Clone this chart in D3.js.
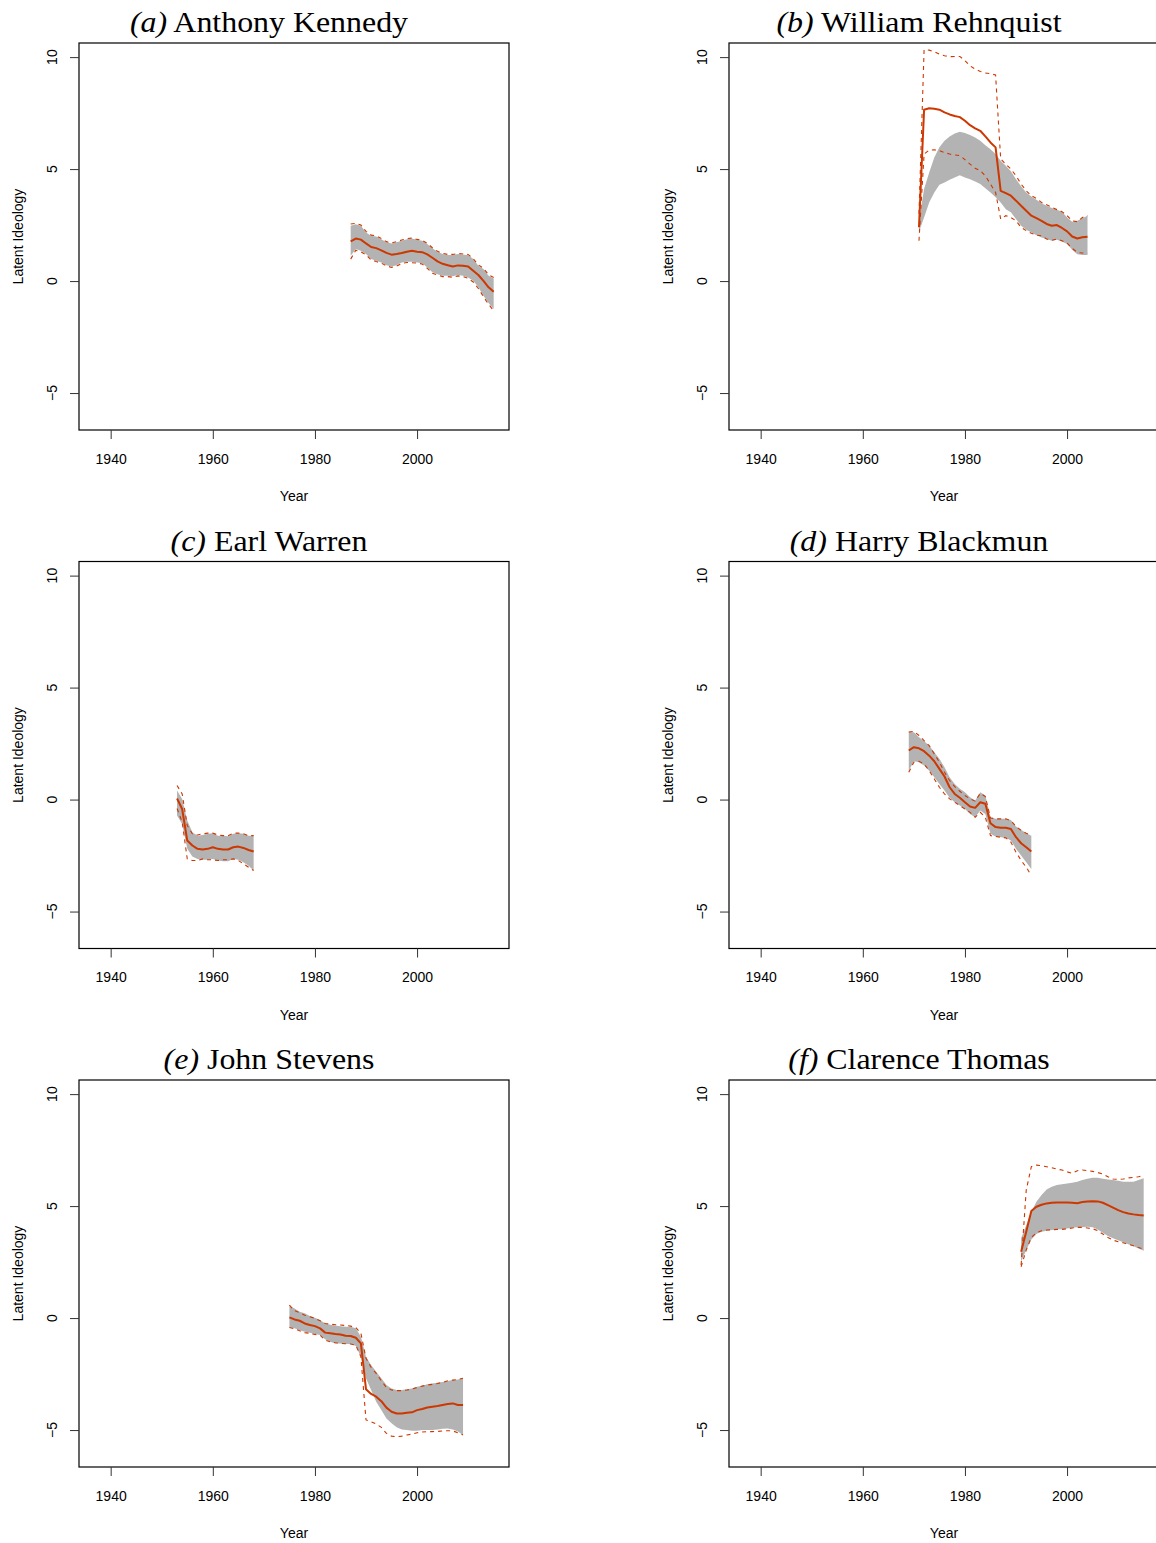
<!DOCTYPE html>
<html>
<head>
<meta charset="utf-8">
<script src="https://cdnjs.cloudflare.com/ajax/libs/d3/7.8.5/d3.min.js"></script>
<style>
  body { margin: 0; background: #fff; }
  .axis text { font-family: "Liberation Sans", Arial, Helvetica, sans-serif; font-size: 14px; fill: #000; }
  .axis line { stroke: #333; }
</style>
</head>
<body>
<div id="chart"></div>
<script>
// ---- data ----
var panelLetters = ["a", "b", "c", "d", "e", "f"];
var panelNames = ["Anthony Kennedy", "William Rehnquist", "Earl Warren", "Harry Blackmun", "John Stevens", "Clarence Thomas"];
var startYears = [1987, 1971, 1953, 1969, 1975, 1991];
var yearTicks = [1940, 1960, 1980, 2000];
var ideologyTicks = [-5, 0, 5, 10];

var kennedyMean = [1.77,1.90,1.85,1.68,1.52,1.47,1.37,1.26,1.18,1.21,1.25,1.31,1.35,1.31,1.29,1.19,1.04,0.88,0.77,0.71,0.65,0.70,0.68,0.65,0.46,0.27,0.01,-0.28,-0.48];
var kennedyBandHi = [2.47,2.54,2.47,2.17,2.02,1.99,1.87,1.73,1.68,1.73,1.80,1.87,1.90,1.84,1.80,1.65,1.46,1.31,1.21,1.16,1.16,1.21,1.18,1.16,0.98,0.68,0.54,0.24,0.12];
var kennedyBandLo = [1.13,1.43,1.35,1.21,0.98,0.91,0.83,0.71,0.65,0.71,0.83,0.86,0.86,0.83,0.80,0.61,0.39,0.31,0.24,0.24,0.21,0.27,0.24,0.16,0.01,-0.28,-0.65,-0.98,-1.25];
var kennedyDashHi = [2.55,2.58,2.50,2.22,2.05,2.02,1.90,1.76,1.70,1.76,1.83,1.90,1.92,1.86,1.82,1.68,1.49,1.33,1.24,1.19,1.19,1.23,1.21,1.19,1.00,0.72,0.57,0.28,0.16];
var kennedyDashLo = [0.98,1.38,1.31,1.17,0.95,0.87,0.80,0.68,0.61,0.67,0.79,0.83,0.82,0.80,0.76,0.57,0.35,0.27,0.20,0.20,0.17,0.23,0.20,0.12,-0.04,-0.33,-0.70,-1.04,-1.32];

var rehnquistMean = [2.40,7.65,7.72,7.69,7.65,7.53,7.44,7.37,7.32,7.16,6.96,6.82,6.71,6.46,6.19,5.97,4.03,3.93,3.81,3.59,3.36,3.14,2.92,2.81,2.69,2.55,2.47,2.50,2.37,2.22,1.99,1.90,1.96,1.98];
var rehnquistBandHi = [2.70,4.11,4.85,5.52,5.97,6.27,6.46,6.59,6.67,6.61,6.52,6.41,6.27,6.07,5.89,5.67,5.37,5.15,4.90,4.55,4.23,3.96,3.78,3.63,3.48,3.36,3.26,3.19,3.10,2.84,2.65,2.69,2.80,2.92];
var rehnquistBandLo = [2.20,2.84,3.51,3.96,4.30,4.40,4.52,4.63,4.73,4.63,4.55,4.45,4.33,4.14,3.96,3.74,3.51,3.21,3.07,2.77,2.47,2.29,2.17,2.05,1.95,1.88,1.80,1.85,1.77,1.65,1.40,1.20,1.16,1.16];
var rehnquistDashHi = [3.00,10.33,10.31,10.24,10.13,10.06,10.02,10.03,10.03,9.84,9.61,9.46,9.36,9.29,9.26,9.20,5.45,5.22,5.00,4.70,4.33,4.03,3.81,3.69,3.51,3.41,3.29,3.19,3.10,2.92,2.69,2.65,2.84,2.92];
var rehnquistDashLo = [1.80,5.67,5.85,5.86,5.82,5.74,5.67,5.63,5.60,5.42,5.22,5.04,4.93,4.70,4.33,3.96,2.77,2.92,2.84,2.69,2.40,2.25,2.14,2.05,2.02,1.88,1.82,1.88,1.80,1.70,1.46,1.28,1.25,1.25];

var warrenMean = [0.05,-0.42,-1.83,-2.05,-2.20,-2.23,-2.20,-2.13,-2.20,-2.23,-2.23,-2.13,-2.10,-2.16,-2.25,-2.32];
var warrenBandHi = [0.40,0.03,-0.94,-1.46,-1.61,-1.58,-1.53,-1.50,-1.61,-1.61,-1.64,-1.53,-1.50,-1.53,-1.61,-1.61];
var warrenBandLo = [-0.71,-1.09,-2.20,-2.54,-2.65,-2.69,-2.69,-2.65,-2.72,-2.75,-2.75,-2.65,-2.69,-2.80,-2.95,-3.17];
var warrenDashHi = [0.63,0.25,-1.16,-1.53,-1.58,-1.53,-1.50,-1.50,-1.58,-1.61,-1.61,-1.50,-1.50,-1.53,-1.61,-1.61];
var warrenDashLo = [-0.40,-1.00,-2.65,-2.72,-2.72,-2.65,-2.69,-2.69,-2.72,-2.69,-2.69,-2.65,-2.72,-2.87,-3.02,-3.17];

var blackmunMean = [2.19,2.34,2.29,2.16,1.96,1.71,1.37,1.03,0.55,0.25,0.08,-0.12,-0.31,-0.37,-0.12,-0.19,-1.06,-1.23,-1.26,-1.26,-1.31,-1.68,-1.95,-2.13,-2.32];
var blackmunBandHi = [3.01,3.01,2.78,2.60,2.41,2.11,1.82,1.44,1.00,0.70,0.48,0.33,0.10,-0.04,0.33,0.18,-0.79,-0.86,-0.86,-0.86,-0.91,-1.20,-1.35,-1.50,-1.61];
var blackmunBandLo = [1.29,1.71,1.67,1.52,1.29,1.00,0.70,0.40,0.08,-0.12,-0.27,-0.42,-0.64,-0.79,-0.49,-0.64,-1.53,-1.65,-1.68,-1.71,-1.83,-2.20,-2.50,-2.80,-3.10];
var blackmunDashHi = [3.01,3.05,2.86,2.63,2.41,2.04,1.67,1.22,0.85,0.58,0.37,0.18,0.03,-0.07,0.28,0.13,-0.82,-0.86,-0.86,-0.86,-0.94,-1.20,-1.38,-1.50,-1.61];
var blackmunDashLo = [1.22,1.67,1.71,1.59,1.29,0.92,0.55,0.25,0.03,-0.12,-0.27,-0.42,-0.57,-0.79,-0.57,-0.79,-1.61,-1.65,-1.68,-1.71,-1.90,-2.35,-2.72,-3.02,-3.39];

var stevensMean = [0.03,-0.06,-0.12,-0.24,-0.31,-0.36,-0.46,-0.65,-0.68,-0.71,-0.73,-0.79,-0.80,-0.88,-1.13,-3.18,-3.39,-3.51,-3.71,-4.00,-4.18,-4.26,-4.26,-4.23,-4.21,-4.11,-4.06,-3.99,-3.96,-3.93,-3.88,-3.84,-3.81,-3.88,-3.88];
var stevensBandHi = [0.54,0.43,0.28,0.21,0.09,0.01,-0.09,-0.24,-0.30,-0.33,-0.36,-0.39,-0.39,-0.46,-0.83,-1.73,-2.10,-2.40,-2.69,-2.99,-3.14,-3.21,-3.21,-3.18,-3.14,-3.07,-3.02,-2.96,-2.92,-2.89,-2.86,-2.81,-2.77,-2.74,-2.69];
var stevensBandLo = [-0.42,-0.46,-0.54,-0.61,-0.65,-0.71,-0.76,-0.95,-1.06,-1.13,-1.13,-1.16,-1.16,-1.25,-1.73,-2.69,-3.21,-3.74,-4.11,-4.48,-4.70,-4.88,-4.97,-5.00,-5.03,-5.03,-5.00,-5.00,-5.00,-4.97,-4.94,-4.93,-4.97,-5.07,-5.22];
var stevensDashHi = [0.58,0.33,0.24,0.13,0.06,-0.01,-0.12,-0.24,-0.27,-0.30,-0.31,-0.33,-0.36,-0.42,-0.68,-1.80,-2.20,-2.47,-2.80,-3.10,-3.21,-3.24,-3.24,-3.21,-3.17,-3.10,-3.04,-2.99,-2.96,-2.92,-2.87,-2.80,-2.77,-2.74,-2.69];
var stevensDashLo = [-0.42,-0.48,-0.57,-0.65,-0.68,-0.73,-0.76,-0.98,-1.06,-1.10,-1.13,-1.15,-1.16,-1.21,-1.73,-4.55,-4.63,-4.73,-4.88,-5.15,-5.27,-5.30,-5.27,-5.22,-5.18,-5.12,-5.09,-5.07,-5.07,-5.06,-5.04,-5.03,-5.04,-5.12,-5.22];

var thomasMean = [2.96,3.85,4.78,4.97,5.06,5.12,5.15,5.16,5.16,5.16,5.15,5.13,5.18,5.21,5.22,5.21,5.15,5.04,4.93,4.82,4.73,4.67,4.63,4.60,4.58];
var thomasBandHi = [3.56,4.15,4.75,5.19,5.49,5.74,5.86,5.94,5.98,6.01,6.04,6.09,6.16,6.22,6.26,6.26,6.22,6.19,6.16,6.13,6.09,6.09,6.09,6.16,6.24];
var thomasBandLo = [2.51,3.04,3.51,3.75,3.85,3.90,3.93,3.96,3.97,4.00,4.03,4.05,4.06,4.08,4.05,3.96,3.81,3.66,3.56,3.48,3.39,3.30,3.21,3.11,3.01];
var thomasDashHi = [2.37,5.71,6.76,6.83,6.80,6.76,6.71,6.65,6.61,6.53,6.46,6.58,6.61,6.58,6.55,6.50,6.43,6.31,6.21,6.19,6.21,6.26,6.28,6.31,6.38];
var thomasDashLo = [2.29,3.04,3.60,3.81,3.90,3.93,3.94,3.96,3.96,3.99,4.02,4.05,4.05,4.02,3.99,3.90,3.75,3.60,3.48,3.41,3.36,3.29,3.23,3.15,3.08];

var means = [kennedyMean, rehnquistMean, warrenMean, blackmunMean, stevensMean, thomasMean];
var bandHis = [kennedyBandHi, rehnquistBandHi, warrenBandHi, blackmunBandHi, stevensBandHi, thomasBandHi];
var bandLos = [kennedyBandLo, rehnquistBandLo, warrenBandLo, blackmunBandLo, stevensBandLo, thomasBandLo];
var dashHis = [kennedyDashHi, rehnquistDashHi, warrenDashHi, blackmunDashHi, stevensDashHi, thomasDashHi];
var dashLos = [kennedyDashLo, rehnquistDashLo, warrenDashLo, blackmunDashLo, stevensDashLo, thomasDashLo];

// ---- layout ----
var plotW = 430, plotH = 387;
var colLeft = [79, 729];
var rowTop = [43, 561.5, 1080];
var red = "#CD3700", bandColor = "#B3B3B3";

var svg = d3.select("#chart").append("svg")
    .attr("width", 1156)
    .attr("height", 1543);

var x = d3.scaleLinear().domain([1933.8, 2018.0]).range([0, plotW]);
var y = d3.scaleLinear().domain([-6.65, 10.63]).range([plotH, 0]);

function drawPanel(i) {
    var rows = means[i].map(function (m, k) {
        return { year: startYears[i] + k, mean: m, hi: bandHis[i][k], lo: bandLos[i][k],
                 dhi: dashHis[i][k], dlo: dashLos[i][k] };
    });

    var g = svg.append("g")
        .attr("transform", "translate(" + colLeft[i % 2] + "," + rowTop[Math.floor(i / 2)] + ")");

    var band = d3.area()
        .x(d => x(d.year))
        .y0(d => y(d.lo))
        .y1(d => y(d.hi));

    g.append("path")
        .datum(rows)
        .attr("d", band)
        .attr("fill", bandColor);

    ["dhi", "dlo"].forEach(function (key) {
        g.append("path")
            .datum(rows)
            .attr("d", d3.line().x(d => x(d.year)).y(d => y(d[key])))
            .attr("fill", "none")
            .attr("stroke", red)
            .attr("stroke-width", 1.1)
            .attr("stroke-dasharray", "4,4");
    });

    g.append("path")
        .datum(rows)
        .attr("d", d3.line().x(d => x(d.year)).y(d => y(d.mean)))
        .attr("fill", "none")
        .attr("stroke", red)
        .attr("stroke-width", 2)
        .attr("stroke-linejoin", "round");

    // box
    g.append("rect")
        .attr("width", plotW)
        .attr("height", plotH)
        .attr("fill", "none")
        .attr("stroke", "#000")
        .attr("stroke-width", 1.2);

    // x axis
    var xAxis = g.append("g")
        .attr("class", "axis")
        .attr("transform", "translate(0," + plotH + ")")
        .call(d3.axisBottom(x).tickValues(yearTicks).tickFormat(d3.format("d")).tickSize(9).tickSizeOuter(0).tickPadding(15));
    xAxis.select(".domain").remove();
    xAxis.selectAll("text").attr("font-family", null).attr("font-size", null);

    // y axis
    var yAxis = g.append("g")
        .attr("class", "axis")
        .call(d3.axisLeft(y).tickValues(ideologyTicks).tickSize(9).tickSizeOuter(0).tickFormat(""));
    yAxis.select(".domain").remove();

    g.append("g").attr("class", "axis")
        .selectAll("text")
        .data(ideologyTicks).enter()
        .append("text")
        .attr("transform", d => "translate(-22," + y(d) + ") rotate(-90)")
        .attr("text-anchor", "middle")
        .text(d => d < 0 ? "\u2212" + Math.abs(d) : d);

    g.append("text")
        .attr("class", "axis")
        .attr("transform", "translate(-56," + (plotH / 2) + ") rotate(-90)")
        .attr("text-anchor", "middle")
        .style("font-family", "Liberation Sans, Arial, sans-serif")
        .style("font-size", "14px")
        .text("Latent Ideology");

    g.append("text")
        .attr("x", plotW / 2)
        .attr("y", plotH + 71)
        .attr("text-anchor", "middle")
        .style("font-family", "Liberation Sans, Arial, sans-serif")
        .style("font-size", "14px")
        .text("Year");

    // title, stretched a little to match the wider original serif face
    var title = g.append("text")
        .attr("transform", "translate(190,-11) scale(1.1,1)")
        .attr("text-anchor", "middle")
        .style("font-family", "Liberation Serif, Times New Roman, serif")
        .style("font-size", "29px");
    title.append("tspan").style("font-style", "italic").text("(" + panelLetters[i] + ")");
    title.append("tspan").text(" " + panelNames[i]);
}

for (var i = 0; i < 6; i++) drawPanel(i);
</script>
</body>
</html>
